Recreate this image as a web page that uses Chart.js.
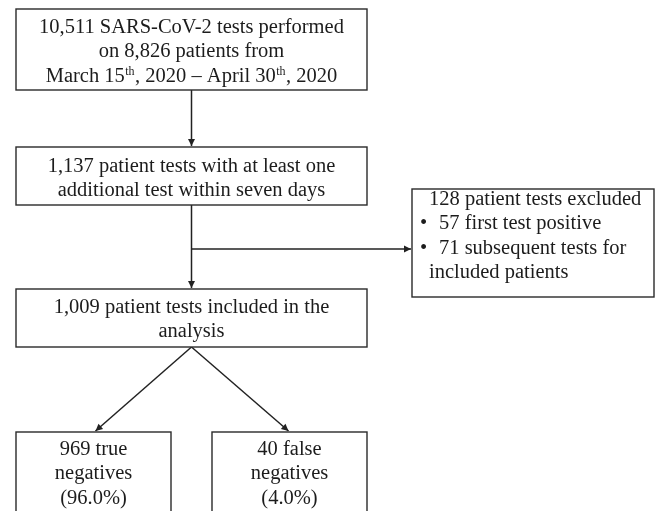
<!DOCTYPE html>
<html>
<head>
<meta charset="utf-8">
<script src="https://cdn.jsdelivr.net/npm/chart.js@4.4.1/dist/chart.umd.min.js"></script>
<style>
  html, body { margin: 0; padding: 0; background: #fff; }
  #wrap { width: 659px; height: 511px; }
</style>
</head>
<body>
<div id="wrap"><canvas id="flowChart" width="659" height="511"></canvas></div>
<script>
// counts shown in the flow
const screenedTests = 10511;
const screenedPatients = 8826;
const studyPeriod = [['March 15', 'th'], ['April 30', 'th']];
const retestedTests = 1137;
const excludedCounts = [128, 57, 71];
const excludedReasons = ['first test positive', 'subsequent tests for', 'included patients'];
const includedTests = 1009;
const outcomeLabels = ['true', 'false'];
const outcomeCounts = [969, 40];

const fmt = n => n.toLocaleString('en-US');
const pct = n => '(' + (n / includedTests * 100).toFixed(1) + '%)';

// layout, in canvas units (x 0..659, y 0..511)
const boxes = {
    screened: { x0: 16, x1: 367, y0: 9, y1: 90, base: 33 },
    retested: { x0: 16, x1: 367, y0: 147, y1: 205, base: 172 },
    excluded: { x0: 412, x1: 654, y0: 189, y1: 297, base: 205 },
    included: { x0: 16, x1: 367, y0: 289, y1: 347, base: 313 },
    trueNeg: { x0: 16, x1: 171, y0: 432, y1: 530, base: 455 },
    falseNeg: { x0: 212, x1: 367, y0: 432, y1: 530, base: 455 }
};
const lineGap = 24.3;
const font = '20.5px "Liberation Serif", "Times New Roman", serif';
const supFont = '12px "Liberation Serif", "Times New Roman", serif';
const ink = '#1c1c1c';

const boxText = {
    screened: [
        [fmt(screenedTests) + ' SARS-CoV-2 tests performed'],
        ['on ' + fmt(screenedPatients) + ' patients from'],
        [studyPeriod[0][0], { sup: studyPeriod[0][1] }, ', 2020 \u2013 ' + studyPeriod[1][0], { sup: studyPeriod[1][1] }, ', 2020']
    ],
    retested: [
        [fmt(retestedTests) + ' patient tests with at least one'],
        ['additional test within seven days']
    ],
    included: [
        [fmt(includedTests) + ' patient tests included in the'],
        ['analysis']
    ],
    trueNeg: [[outcomeCounts[0] + ' ' + outcomeLabels[0]], ['negatives'], [pct(outcomeCounts[0])]],
    falseNeg: [[outcomeCounts[1] + ' ' + outcomeLabels[1]], ['negatives'], [pct(outcomeCounts[1])]]
};
const excludedLines = [
    { text: excludedCounts[0] + ' patient tests excluded' },
    { text: excludedCounts[1] + ' ' + excludedReasons[0], bullet: true },
    { text: excludedCounts[2] + ' ' + excludedReasons[1], bullet: true },
    { text: excludedReasons[2] }
];

const cx = b => (b.x0 + b.x1) / 2;
const trunkX = cx(boxes.screened);
const branchY = 249;
const connectors = [
    [[trunkX, boxes.screened.y1], [trunkX, boxes.retested.y0 - 1]],
    [[trunkX, boxes.retested.y1], [trunkX, boxes.included.y0 - 1]],
    [[trunkX, branchY], [boxes.excluded.x0 - 1, branchY]],
    [[trunkX, boxes.included.y1], [cx(boxes.trueNeg) + 2, boxes.trueNeg.y0 - 1]],
    [[trunkX, boxes.included.y1], [cx(boxes.falseNeg) - 1, boxes.falseNeg.y0 - 1]]
];

function segWidth(ctx, seg) {
    if (typeof seg === 'string') { ctx.font = font; return ctx.measureText(seg).width; }
    ctx.font = supFont; return ctx.measureText(seg.sup).width + 1;
}

function drawRich(ctx, segs, centerX, baseY) {
    const total = segs.reduce((s, seg) => s + segWidth(ctx, seg), 0);
    let x = centerX - total / 2;
    segs.forEach(seg => {
        const w = segWidth(ctx, seg);
        if (typeof seg === 'string') {
            ctx.font = font;
            ctx.fillText(seg, x, baseY);
        } else {
            ctx.font = supFont;
            ctx.fillText(seg.sup, x + 0.5, baseY - 7);
        }
        x += w;
    });
}

const flowPlugin = {
    id: 'flowBoxes',
    afterDatasetsDraw(chart) {
        const { ctx, scales: { x, y } } = chart;
        ctx.save();
        // arrowheads at the end of each connector
        ctx.fillStyle = '#222';
        connectors.forEach(([a, b]) => {
            const px = x.getPixelForValue(b[0]), py = y.getPixelForValue(b[1]);
            const ang = Math.atan2(py - y.getPixelForValue(a[1]), px - x.getPixelForValue(a[0]));
            const len = 7, half = 3.5;
            ctx.beginPath();
            ctx.moveTo(px, py);
            ctx.lineTo(px - len * Math.cos(ang) + half * Math.sin(ang), py - len * Math.sin(ang) - half * Math.cos(ang));
            ctx.lineTo(px - len * Math.cos(ang) - half * Math.sin(ang), py - len * Math.sin(ang) + half * Math.cos(ang));
            ctx.closePath();
            ctx.fill();
        });
        // boxes
        Object.keys(boxes).forEach(key => {
            const b = boxes[key];
            const l = x.getPixelForValue(b.x0), r = x.getPixelForValue(b.x1);
            const t = y.getPixelForValue(b.y0), btm = y.getPixelForValue(b.y1);
            ctx.fillStyle = '#fff';
            ctx.fillRect(l, t, r - l, btm - t);
            ctx.strokeStyle = '#2a2a2a';
            ctx.lineWidth = 1.4;
            ctx.strokeRect(l, t, r - l, btm - t);
        });
        // text
        ctx.fillStyle = ink;
        ctx.textAlign = 'left';
        ctx.textBaseline = 'alphabetic';
        Object.keys(boxText).forEach(key => {
            const b = boxes[key];
            boxText[key].forEach((segs, i) => {
                drawRich(ctx, segs, x.getPixelForValue(cx(b)), y.getPixelForValue(b.base + i * lineGap));
            });
        });
        const ex = boxes.excluded;
        ctx.font = font;
        excludedLines.forEach((ln, i) => {
            const by = y.getPixelForValue(ex.base + i * lineGap);
            if (ln.bullet) {
                ctx.fillText('\u2022', x.getPixelForValue(ex.x0 + 8), by);
                ctx.fillText(ln.text, x.getPixelForValue(ex.x0 + 27), by);
            } else {
                ctx.fillText(ln.text, x.getPixelForValue(ex.x0 + 17), by);
            }
        });
        ctx.restore();
    }
};

new Chart(document.getElementById('flowChart'), {
    type: 'scatter',
    data: {
        datasets: connectors.map(seg => ({
            data: seg.map(p => ({ x: p[0], y: p[1] })),
            showLine: true,
            borderColor: '#222',
            borderWidth: 1.5,
            pointRadius: 0,
            clip: false
        }))
    },
    options: {
        responsive: false,
        animation: false,
        events: [],
        layout: { padding: 0 },
        plugins: { legend: { display: false }, tooltip: { enabled: false } },
        scales: {
            x: { type: 'linear', min: 0, max: 659, display: false },
            y: { type: 'linear', min: 0, max: 511, reverse: true, display: false }
        }
    },
    plugins: [flowPlugin]
});
</script>
</body>
</html>
